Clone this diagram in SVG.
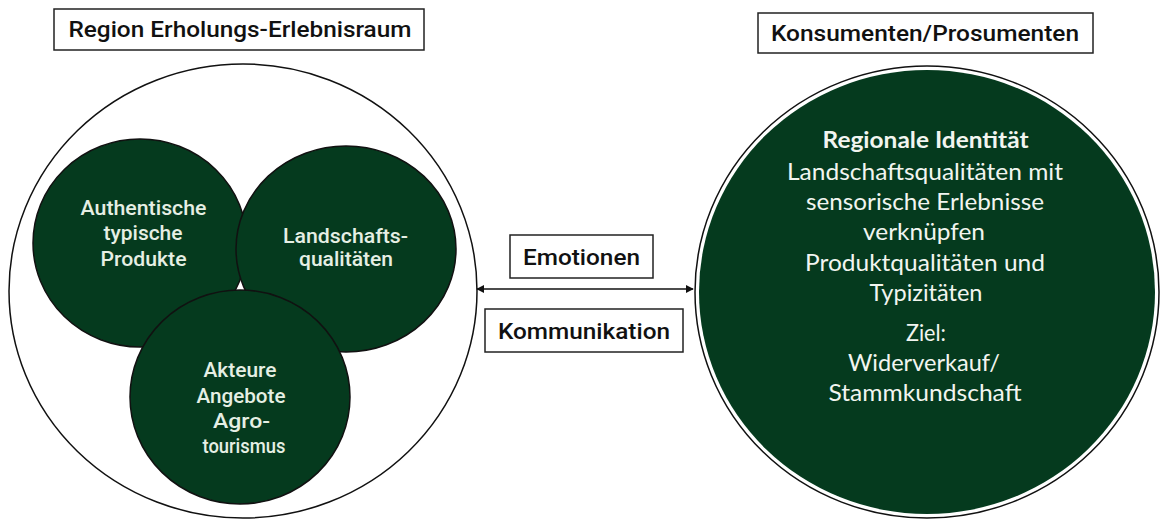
<svg xmlns="http://www.w3.org/2000/svg" width="1161" height="531" viewBox="0 0 1161 531">
<style>
.box{fill:#fff;stroke:#222;stroke-width:1.5}
.lbl{font-family:Roboto,"Liberation Sans",sans-serif;font-weight:500;font-size:22px;fill:#111;text-anchor:middle}
.ctext{font-family:Roboto,"Liberation Sans",sans-serif;font-weight:500;font-size:20px;fill:#e6efe4;text-anchor:middle}
.gc{fill:#053a1e;stroke:#111;stroke-width:1.5}
.rtext{font-family:Lato,"Open Sans",sans-serif;font-size:23px;fill:#f2f5f0;text-anchor:middle}
</style>
<defs>
<marker id="ah" viewBox="0 0 10 10" refX="9" refY="5" markerWidth="8" markerHeight="8" orient="auto-start-reverse" markerUnits="userSpaceOnUse">
<path d="M0,0 L10,5 L0,10 z" fill="#111"/>
</marker>
</defs>
<rect width="1161" height="531" fill="#fff"/>
<g id="region-title">
<rect class="box" x="54" y="9" width="370" height="41"/>
<text class="lbl" x="240" y="37" font-size="23" textLength="343" lengthAdjust="spacingAndGlyphs">Region Erholungs-Erlebnisraum</text>
</g>
<g id="region">
<ellipse cx="243" cy="291" rx="234" ry="227" fill="#fff" stroke="#111" stroke-width="1.5"/>
</g>
<g id="produkte">
<ellipse class="gc" cx="140" cy="243" rx="107" ry="104"/>
<text class="ctext" x="143.5" y="215" textLength="126" lengthAdjust="spacingAndGlyphs">Authentische</text>
<text class="ctext" x="143" y="240" textLength="79" lengthAdjust="spacingAndGlyphs">typische</text>
<text class="ctext" x="143.5" y="266" textLength="86" lengthAdjust="spacingAndGlyphs">Produkte</text>
</g>
<g id="landschaft">
<ellipse class="gc" cx="346" cy="249" rx="110" ry="103"/>
<text class="ctext" x="345.5" y="242.5" textLength="125" lengthAdjust="spacingAndGlyphs">Landschafts-</text>
<text class="ctext" x="346" y="266" textLength="94" lengthAdjust="spacingAndGlyphs">qualitäten</text>
</g>
<g id="akteure">
<ellipse class="gc" cx="240" cy="397" rx="110" ry="107"/>
<text class="ctext" x="240" y="377" textLength="73" lengthAdjust="spacingAndGlyphs">Akteure</text>
<text class="ctext" x="241" y="402.5" textLength="89" lengthAdjust="spacingAndGlyphs">Angebote</text>
<text class="ctext" x="241.5" y="428" textLength="57" lengthAdjust="spacingAndGlyphs">Agro-</text>
<text class="ctext" x="244" y="453" textLength="83" lengthAdjust="spacingAndGlyphs">tourismus</text>
</g>
<g id="connectors">
<line x1="477" y1="289" x2="693" y2="289" stroke="#111" stroke-width="1.5" marker-start="url(#ah)" marker-end="url(#ah)"/>
</g>
<g id="emotionen">
<rect class="box" x="510" y="235" width="143" height="43"/>
<text class="lbl" x="581.5" y="265" textLength="117" lengthAdjust="spacingAndGlyphs">Emotionen</text>
</g>
<g id="kommunikation">
<rect class="box" x="485" y="309" width="198" height="43"/>
<text class="lbl" x="584" y="339" textLength="172" lengthAdjust="spacingAndGlyphs">Kommunikation</text>
</g>
<g id="konsumenten-title">
<rect class="box" x="758" y="13" width="335" height="40"/>
<text class="lbl" x="925" y="41" textLength="308" lengthAdjust="spacingAndGlyphs">Konsumenten/Prosumenten</text>
</g>
<g id="konsumenten">
<ellipse cx="927" cy="292" rx="232" ry="226" fill="#fff" stroke="#111" stroke-width="1.5"/>
<ellipse cx="927" cy="292" rx="228" ry="222" fill="#053a1e"/>
<text class="rtext" x="925.5" y="148" font-weight="700" textLength="206" lengthAdjust="spacingAndGlyphs">Regionale Identität</text>
<text class="rtext" x="925" y="180" textLength="276" lengthAdjust="spacingAndGlyphs">Landschaftsqualitäten mit</text>
<text class="rtext" x="925" y="210" textLength="238" lengthAdjust="spacingAndGlyphs">sensorische Erlebnisse</text>
<text class="rtext" x="924" y="240" textLength="122" lengthAdjust="spacingAndGlyphs">verknüpfen</text>
<text class="rtext" x="925" y="271" textLength="240" lengthAdjust="spacingAndGlyphs">Produktqualitäten und</text>
<text class="rtext" x="926" y="301" textLength="113" lengthAdjust="spacingAndGlyphs">Typizitäten</text>
<text class="rtext" x="926" y="341" textLength="40" lengthAdjust="spacingAndGlyphs">Ziel:</text>
<text class="rtext" x="924" y="371" textLength="152" lengthAdjust="spacingAndGlyphs">Widerverkauf/</text>
<text class="rtext" x="925" y="401" textLength="193" lengthAdjust="spacingAndGlyphs">Stammkundschaft</text>
</g>
</svg>
